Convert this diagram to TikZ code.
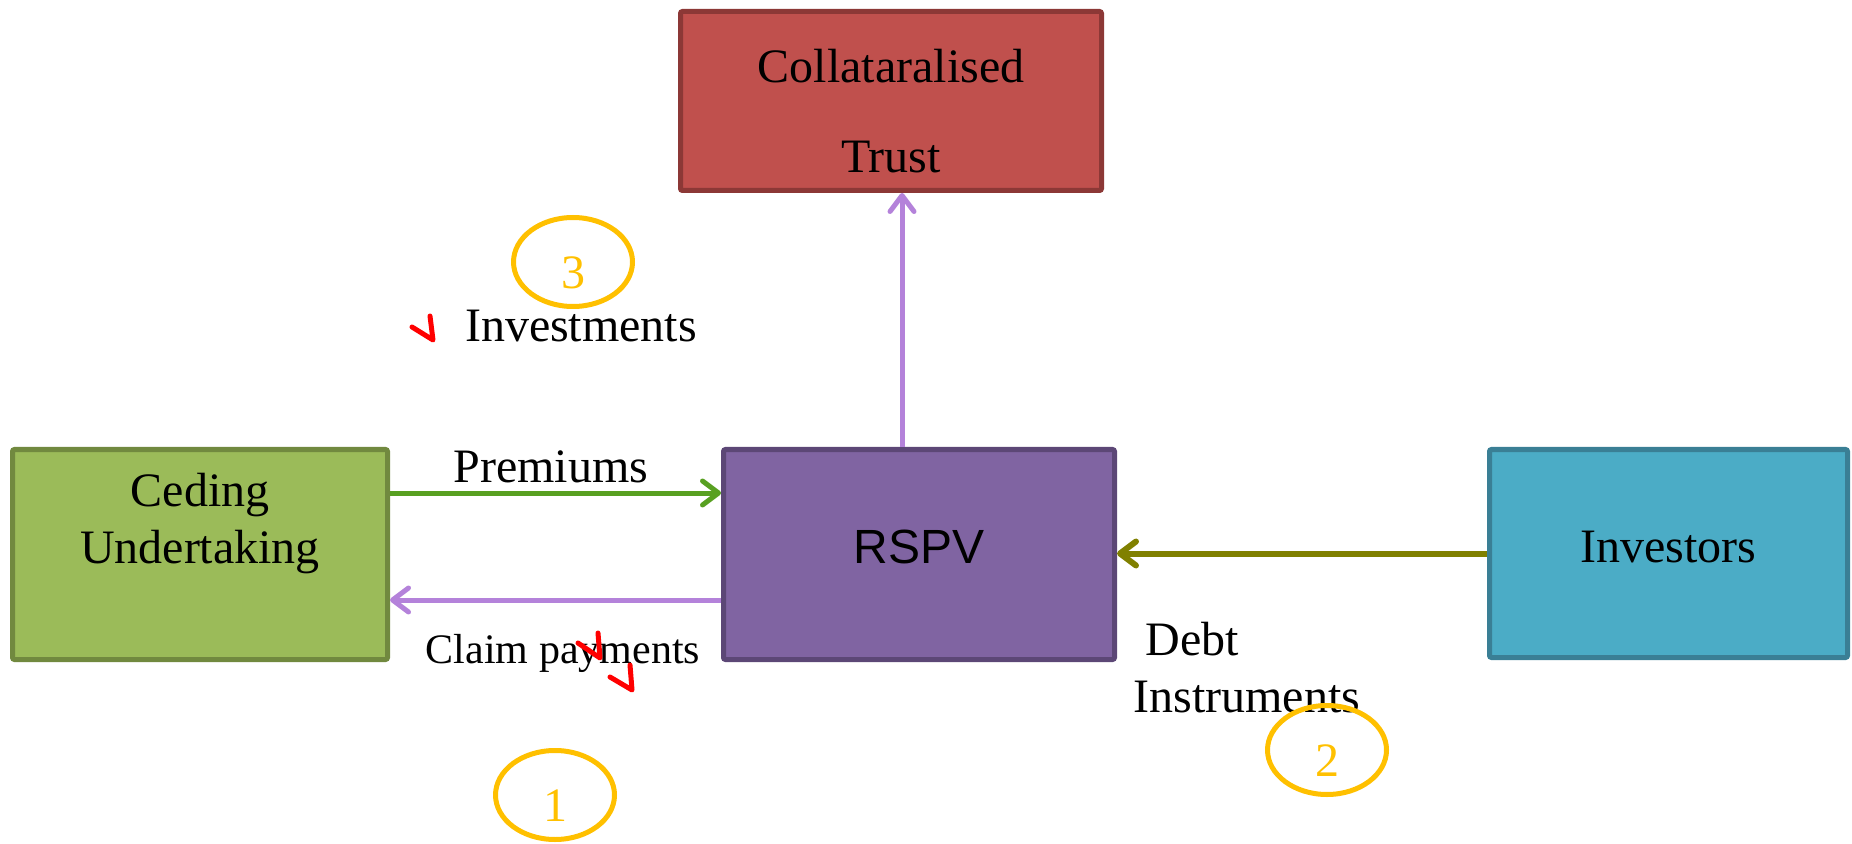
\documentclass[tikz,border=0pt]{standalone}
\usepackage{fontspec}
\setmainfont{Liberation Serif}
\setsansfont{Liberation Sans}
\usepackage{xcolor}
\definecolor{cedefill}{HTML}{9BBB59}
\definecolor{cedeline}{HTML}{71893F}
\definecolor{trustfill}{HTML}{C0504D}
\definecolor{trustline}{HTML}{8C3836}
\definecolor{rspvfill}{HTML}{8064A2}
\definecolor{rspvline}{HTML}{5C4776}
\definecolor{invfill}{HTML}{4BACC6}
\definecolor{invline}{HTML}{3A7F95}
\definecolor{premgreen}{HTML}{58A021}
\definecolor{claimlilac}{HTML}{B482DA}
\definecolor{debtolive}{HTML}{808000}
\definecolor{markgold}{HTML}{FFC000}
\usepackage{tikz}
\usetikzlibrary{positioning, arrows.meta, shapes.geometric}

\begin{document}
\begin{tikzpicture}[x=0.5pt, y=-0.5pt,
  font=\fontsize{24}{28.5}\selectfont,
  box/.style={draw, line width=2.5pt, rounded corners=1pt, inner sep=0pt},
  flow/.style={line width=2.5pt, -{Straight Barb[length=8pt, width=12pt, round]}},
  tag/.style={ellipse, draw=markgold, line width=2.5pt, minimum width=59.5pt,
    minimum height=44.5pt, inner sep=0pt, text=markgold, text height=26.5pt, text depth=0pt},
  redtick/.style={draw=red, line width=2.5pt, line cap=round, line join=round}]
  \useasboundingbox (0,0) rectangle (1852,844);

  % boxes
  \node[box, draw=cedeline, fill=cedefill, minimum width=187.5pt, minimum height=105pt] (ceding) at (200,554.5) {};
  \node[align=center] (cedinglbl) at (200,524) {Ceding\\Undertaking};
  \node[box, draw=rspvline, fill=rspvfill, minimum width=195.5pt, minimum height=105pt,
        font=\sffamily\fontsize{24}{28.5}\selectfont, text depth=7.5pt] (rspv) at (919,554.5) {RSPV};
  \node[box, draw=trustline, fill=trustfill, minimum width=210.5pt, minimum height=89.5pt] (trust) at (891,101) {};
  \node[align=center] (trustlbl) at (891,111) {Collataralised\\[16.5pt]Trust};
  \node[box, draw=invline, fill=invfill, minimum width=179pt, minimum height=104pt,
        text depth=6.5pt] (investors) at (1668.5,553.5) {Investors};

  % flows
  \draw[flow, premgreen] ([yshift=30.75pt]ceding.east) -- ([yshift=30.75pt]rspv.west);
  \draw[flow, claimlilac] ([yshift=-22.75pt]rspv.west) -- ([yshift=-22.75pt]ceding.east);
  \draw[flow, claimlilac] ([xshift=-8.5pt]rspv.north) -- ([xshift=-8.5pt]rspv.north |- trust.south);
  \draw[flow, debtolive, line width=3pt] (investors.west) -- (rspv.east |- investors.west);

  % labels
  \node[anchor=base] (premlbl) at (551,482) {Premiums};
  \node[anchor=base, font=\fontsize{21}{25}\selectfont] (claimlbl) at (563,663) {Claim payments};
  \node[anchor=base] (investlbl) at (581,342) {Investments};
  \node[align=left, anchor=west, inner sep=0pt] (debtlbl) at (1133,668) {\hspace*{6pt}Debt\\Instruments};

  % numbered marks
  \node[tag] (tagthree) at (573,262) {3};
  \node[tag] (tagone) at (555,795) {1};
  \node[tag] (tagtwo) at (1327,750) {2};

  % ticks
  \draw[redtick] (412,327) -- (433,340) -- (430,316);
  \draw[redtick] (578,643) -- (600,658) -- (598,633);
  \draw[redtick] (610,677) -- (632,690) -- (630,665);
\end{tikzpicture}
\end{document}
